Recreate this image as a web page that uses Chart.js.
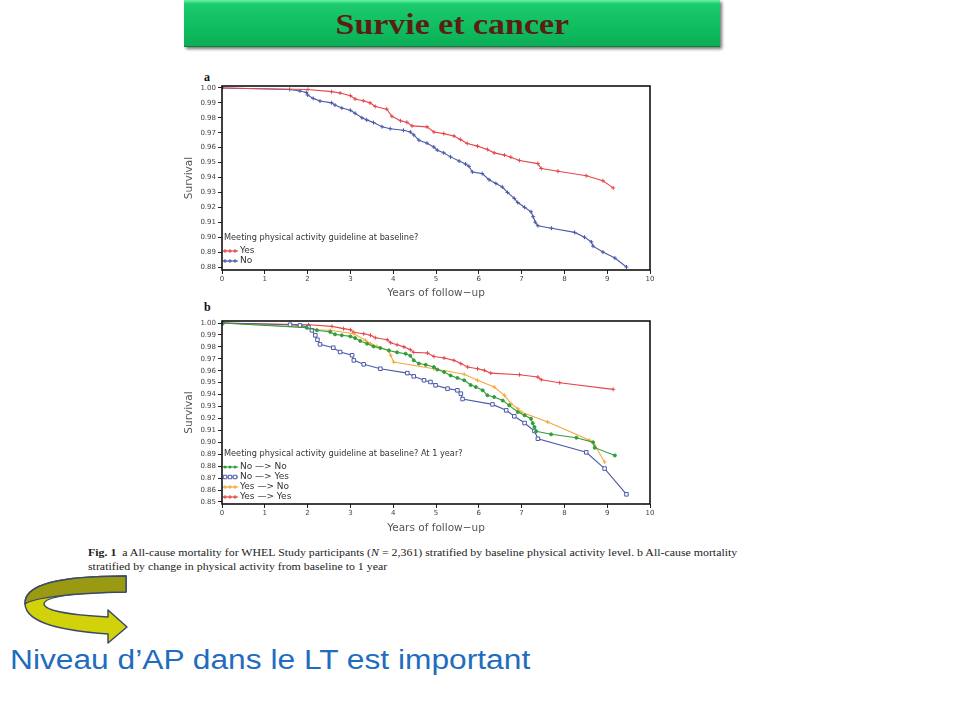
<!DOCTYPE html>
<html>
<head>
<meta charset="utf-8">
<script src="https://cdn.jsdelivr.net/npm/chart.js@4"></script>
<style>
  body { margin: 0; background: #fff; }
  #page { position: relative; width: 960px; height: 720px; overflow: hidden; }
  .banner {
    position: absolute; left: 184px; top: 0; width: 536px; height: 46px;
    background: linear-gradient(#6af4a8 0, #1ccb6c 4px, #0fbb5e 30px, #0cae55 46px);
    box-shadow: 2px 2px 3px #777; border-bottom: 1px solid #0a7f3e;
    text-align: center; font: bold 30px "Liberation Serif", serif; color: #5b1e14; line-height: 48px;
  }
  .banner span { display: inline-block; transform: scaleX(1.13); }
  .lbl { position: absolute; font: bold 12px "Liberation Serif", serif; color: #111; }
  canvas { position: absolute; }
  .cap {
    position: absolute; left: 88px;
    font: 10.5px "Liberation Serif", serif; color: #222; line-height: 14px; white-space: nowrap;
    transform: scaleX(1.13); transform-origin: left top;
  }
  .note {
    position: absolute; left: 10px; top: 645px; font: 27px "Liberation Sans", Arial, sans-serif;
    color: #1f6dbf; white-space: nowrap; transform: scaleX(1.175); transform-origin: left center;
  }
</style>
</head>
<body>
<div id="page">
  <div class="banner"><span>Survie et cancer</span></div>
  <div class="lbl" style="left:204px; top:70px;">a</div>
  <div class="lbl" style="left:204px; top:300px;">b</div>
  <canvas id="chartA" width="480" height="230" style="left:180px; top:70px;"></canvas>
  <canvas id="chartB" width="480" height="240" style="left:180px; top:300px;"></canvas>
  <div class="cap" style="top:546px;"><b>Fig. 1</b>&nbsp; a All-cause mortality for WHEL Study participants (<i>N</i> = 2,361) stratified by baseline physical activity level. b All-cause mortality</div>
  <div class="cap" style="top:560px;">stratified by change in physical activity from baseline to 1 year</div>
  <svg style="position:absolute; left:0; top:570px;" width="150" height="80" viewBox="0 570 150 80">
    <path d="M126,576 C60,576 24,584 25,604 C26,624 65,631 108,634 L108,643 L127,627 L108,610 L108,617 C75,615 45,612 44,604 C44,597 75,592 126,592 Z"
          fill="#d2d20a" stroke="#3c4a6a" stroke-width="1.5" stroke-linejoin="round"/>
    <path d="M126,576 C60,576 24,584 25,604 C33,598 70,593 126,592 Z"
          fill="#9a9a12" stroke="#3c4a6a" stroke-width="1.5" stroke-linejoin="round"/>
  </svg>
  <div class="note">Niveau d’AP dans le LT est important</div>
</div>
<script>
// Axes
const xTicks = [0, 1, 2, 3, 4, 5, 6, 7, 8, 9, 10];
const yTicksA = [0.88, 0.89, 0.90, 0.91, 0.92, 0.93, 0.94, 0.95, 0.96, 0.97, 0.98, 0.99, 1.00];
const yTicksB = [0.85, 0.86, 0.87, 0.88, 0.89, 0.90, 0.91, 0.92, 0.93, 0.94, 0.95, 0.96, 0.97, 0.98, 0.99, 1.00];

// Figure a : baseline Yes / No
const yesYearsA = [0, 2.01, 2.56, 2.76, 3.0, 3.11, 3.3, 3.46, 3.58, 3.85, 3.97, 4.17, 4.32, 4.44, 4.79, 4.95, 5.18, 5.42, 5.57, 5.73, 5.97, 6.2, 6.36, 6.6, 6.75, 6.95, 7.38, 7.46, 7.85, 8.51, 8.9, 9.14];
const yesSurvA = [1.0, 0.999, 0.9975, 0.9966, 0.9948, 0.9926, 0.9914, 0.990, 0.9876, 0.9858, 0.981, 0.978, 0.977, 0.9746, 0.9739, 0.9705, 0.9694, 0.9678, 0.9655, 0.9628, 0.961, 0.9588, 0.9565, 0.955, 0.9536, 0.9514, 0.9493, 0.946, 0.9442, 0.9412, 0.9378, 0.933];
const noYearsA = [0, 1.58, 1.82, 1.97, 2.0, 2.13, 2.29, 2.56, 2.64, 2.8, 3.0, 3.11, 3.27, 3.38, 3.54, 3.74, 3.93, 4.24, 4.4, 4.48, 4.6, 4.79, 4.95, 5.03, 5.18, 5.34, 5.54, 5.69, 5.77, 5.85, 6.08, 6.24, 6.4, 6.55, 6.67, 6.83, 6.91, 7.07, 7.22, 7.27, 7.32, 7.38, 7.7, 8.24, 8.47, 8.63, 8.67, 8.9, 9.18, 9.45];
const noSurvA = [1.0, 0.999, 0.998, 0.997, 0.9953, 0.993, 0.9912, 0.990, 0.9885, 0.9865, 0.985, 0.983, 0.980, 0.9786, 0.9768, 0.974, 0.9727, 0.9716, 0.9705, 0.9685, 0.965, 0.963, 0.9604, 0.9583, 0.9565, 0.9538, 0.951, 0.949, 0.9475, 0.9437, 0.9426, 0.9385, 0.936, 0.9336, 0.930, 0.926, 0.9232, 0.920, 0.917, 0.9137, 0.910, 0.9077, 0.906, 0.9032, 0.900, 0.8968, 0.894, 0.890, 0.886, 0.880];

// Figure b : baseline -> 1 year
const nnYearsB = [0, 1.98, 2.22, 2.53, 2.64, 2.8, 3.0, 3.11, 3.23, 3.39, 3.54, 3.7, 3.9, 4.09, 4.29, 4.4, 4.48, 4.6, 4.76, 4.95, 5.03, 5.19, 5.34, 5.5, 5.66, 5.81, 5.93, 6.09, 6.2, 6.36, 6.56, 6.71, 6.91, 7.07, 7.22, 7.26, 7.3, 7.34, 7.69, 8.28, 8.67, 8.71, 9.18];
const nnSurvB = [1.0, 0.9961, 0.9939, 0.9925, 0.9905, 0.9897, 0.9888, 0.9874, 0.985, 0.9827, 0.9804, 0.979, 0.977, 0.9754, 0.9743, 0.9726, 0.9687, 0.966, 0.965, 0.9631, 0.961, 0.959, 0.956, 0.954, 0.952, 0.948, 0.9464, 0.9436, 0.9394, 0.938, 0.935, 0.931, 0.9254, 0.9226, 0.9198, 0.916, 0.9128, 0.9092, 0.9067, 0.9039, 0.900, 0.8955, 0.889];
const nyYearsB = [0, 1.59, 1.82, 2.02, 2.1, 2.18, 2.23, 2.29, 2.6, 2.76, 3.04, 3.08, 3.31, 3.7, 4.33, 4.48, 4.72, 4.87, 4.99, 5.27, 5.5, 5.58, 5.62, 6.32, 6.64, 6.83, 7.07, 7.3, 7.38, 8.51, 8.94, 9.45];
const nySurvB = [1.0, 0.9986, 0.998, 0.9966, 0.9939, 0.9897, 0.986, 0.9821, 0.9793, 0.9757, 0.973, 0.9687, 0.9654, 0.9617, 0.958, 0.9553, 0.952, 0.9506, 0.9478, 0.945, 0.9436, 0.9408, 0.9363, 0.9318, 0.9268, 0.9218, 0.9162, 0.9095, 0.903, 0.8916, 0.878, 0.8564];
const ynYearsB = [0, 1.98, 2.2, 2.53, 3.08, 3.35, 3.47, 3.62, 3.9, 3.94, 4.01, 4.95, 5.66, 5.97, 6.36, 6.6, 6.75, 6.91, 6.99, 7.61, 8.59, 8.71, 8.94];
const ynSurvB = [1.0, 0.9966, 0.9944, 0.9939, 0.991, 0.9855, 0.9827, 0.9804, 0.977, 0.973, 0.9673, 0.9617, 0.957, 0.952, 0.9464, 0.9394, 0.9324, 0.9282, 0.9254, 0.917, 0.9017, 0.8975, 0.8835];
const yyYearsB = [0, 2.02, 2.57, 2.84, 3.0, 3.08, 3.31, 3.47, 3.58, 3.86, 3.94, 4.09, 4.25, 4.4, 4.48, 4.8, 4.95, 5.19, 5.42, 5.58, 5.74, 5.97, 6.13, 6.28, 6.95, 7.38, 7.46, 7.89, 9.14];
const yySurvB = [1.0, 0.9986, 0.9972, 0.9953, 0.9944, 0.9922, 0.991, 0.9897, 0.9877, 0.986, 0.9835, 0.9818, 0.980, 0.9777, 0.9754, 0.9749, 0.972, 0.9707, 0.9687, 0.966, 0.9631, 0.9617, 0.9603, 0.958, 0.9567, 0.9547, 0.9525, 0.950, 0.9444];

const RED = '#e5474b', BLUE = '#4b5aa8', GREEN = '#2f9e3a', ORANGE = '#f3a83c';
Chart.defaults.font.family = '"DejaVu Sans", sans-serif';

function pts(xs, ys) { return xs.map((x, i) => ({ x: x, y: ys[i] })); }

function serie(label, xs, ys, color, style, r) {
    return {
        label: label, data: pts(xs, ys),
        borderColor: color, backgroundColor: style === 'rect' ? '#fff' : color,
        pointBorderColor: color, borderWidth: 1.1, tension: 0,
        pointStyle: style, pointRadius: r, pointBorderWidth: 1, fill: false
    };
}

// petit marqueur pour la legende
function mark(ctx, style, x, y, r, color) {
    ctx.strokeStyle = color; ctx.fillStyle = color; ctx.lineWidth = 1;
    ctx.beginPath();
    if (style === 'rect') {
        ctx.fillStyle = '#fff';
        ctx.rect(x - r * 0.7, y - r * 0.7, r * 1.4, r * 1.4); ctx.fill(); ctx.stroke();
    } else if (style === 'circle') {
        ctx.arc(x, y, r, 0, Math.PI * 2); ctx.fill();
    } else {
        ctx.moveTo(x - r, y); ctx.lineTo(x + r, y);
        ctx.moveTo(x, y - r); ctx.lineTo(x, y + r); ctx.stroke();
    }
}

// cadre + legende dans la zone du graphe
const framePlugin = {
    id: 'frame',
    afterDraw(chart, args, o) {
        const ctx = chart.ctx, a = chart.chartArea;
        ctx.save();
        ctx.strokeStyle = '#111'; ctx.lineWidth = 1.6;
        ctx.strokeRect(a.left, a.top, a.right - a.left, a.bottom - a.top);
        ctx.textBaseline = 'middle';
        ctx.fillStyle = '#333';
        ctx.font = '8.2px "DejaVu Sans"';
        ctx.fillText(o.title, a.left + 2, o.titleY);
        chart.data.datasets.forEach((ds, i) => {
            const y = o.firstY + i * o.gap;
            ctx.strokeStyle = ds.borderColor; ctx.lineWidth = 1.1;
            ctx.beginPath(); ctx.moveTo(a.left + 1, y); ctx.lineTo(a.left + 16, y); ctx.stroke();
            [3, 8, 13].forEach(dx => mark(ctx, ds.pointStyle, a.left + dx, y, ds.pointRadius, ds.borderColor));
            ctx.fillStyle = '#333';
            ctx.font = '9px "DejaVu Sans"';
            ctx.fillText(ds.label, a.left + 18, y);
        });
        ctx.restore();
    }
};

function makeChart(id, datasets, yTicks, yMin, yMax, padTop, xHeight, titlePad, legend) {
    return new Chart(document.getElementById(id), {
        type: 'line',
        data: { datasets: datasets },
        plugins: [framePlugin],
        options: {
            responsive: false,
            animation: false,
            layout: { padding: { top: padTop, right: 10, left: 0, bottom: 0 } },
            plugins: { legend: { display: false }, tooltip: { enabled: false }, frame: legend },
            scales: {
                x: {
                    type: 'linear', min: 0, max: 10,
                    afterBuildTicks(s) { s.ticks = xTicks.map(v => ({ value: v })); },
                    afterFit(s) { s.height = xHeight; },
                    ticks: { font: { size: 7 }, color: '#444', padding: 1, maxRotation: 0 },
                    grid: { drawOnChartArea: false, tickLength: 4, color: '#222' },
                    border: { display: false },
                    title: { display: true, text: 'Years of follow−up', font: { size: 10.5 }, color: '#555', padding: { top: 0, bottom: titlePad } }
                },
                y: {
                    min: yMin, max: yMax,
                    afterBuildTicks(s) { s.ticks = yTicks.map(v => ({ value: v })); },
                    afterFit(s) { s.width = 42; },
                    ticks: { font: { size: 7 }, color: '#444', padding: 2, callback: v => v.toFixed(2) },
                    grid: { drawOnChartArea: false, tickLength: 4, color: '#222' },
                    border: { display: false },
                    title: { display: true, text: 'Survival', font: { size: 10.5 }, color: '#555', padding: { top: 3, bottom: 2 } }
                }
            }
        }
    });
}

makeChart('chartA', [
    serie('Yes', yesYearsA, yesSurvA, RED, 'cross', 2),
    serie('No', noYearsA, noSurvA, BLUE, 'cross', 2)
], yTicksA, 0.878, 1.0013, 16, 30, 0,
   { title: 'Meeting physical activity guideline at baseline?', titleY: 168, firstY: 181, gap: 10 });

makeChart('chartB', [
    serie('No —> No', nnYearsB, nnSurvB, GREEN, 'circle', 1.5),
    serie('No —> Yes', nyYearsB, nySurvB, BLUE, 'rect', 2.5),
    serie('Yes —> No', ynYearsB, ynSurvB, ORANGE, 'cross', 2),
    serie('Yes —> Yes', yyYearsB, yySurvB, RED, 'cross', 2)
], yTicksB, 0.8483, 1.0017, 21, 36, 5,
   { title: 'Meeting physical activity guideline at baseline? At 1 year?', titleY: 154, firstY: 167, gap: 10 });
</script>
</body>
</html>
